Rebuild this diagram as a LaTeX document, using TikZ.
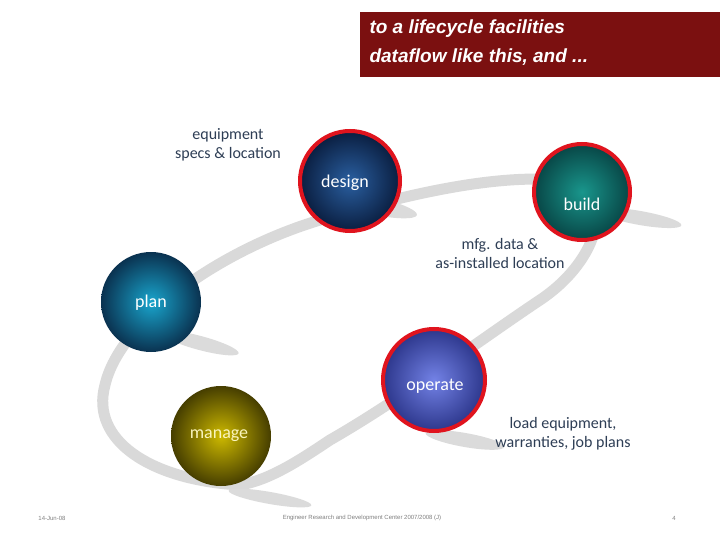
\documentclass[tikz,border=0pt]{standalone}
\usepackage{fontspec}
\setmainfont{Carlito}
\newfontfamily\arialf{Liberation Sans}
\definecolor{titlered}{HTML}{7B1010}
\definecolor{lbl}{HTML}{2E3E55}
\definecolor{ringred}{HTML}{E0141E}
\begin{document}
\begin{tikzpicture}[x=1pt,y=-1pt,
  ball/.style={circle,minimum size=#1,inner sep=0pt},
  redring/.style={draw=ringred,line width=4pt},
  intext/.style={font=\fontsize{18}{20}\selectfont,text=white},
  lab/.style={font=\fontsize{16}{19}\selectfont,text=lbl,align=center},
  loop/.style={draw=gray!30,line width=11pt,line cap=round},
  shad/.style={fill=gray!28}]
\useasboundingbox[fill=white] (0,0) rectangle (720,540);
% title
\node[fill=titlered,minimum width=360,minimum height=65,anchor=north west,inner sep=0] (title) at (360,12) {};
\node[anchor=north west,text=white,align=left,font=\arialf\bfseries\itshape\fontsize{19}{29}\selectfont] (tt) at (366,16) {to a lifecycle facilities\\dataflow like this, and ...};
% loop
\draw[loop] (240,485) .. controls (150,480) and (90,440) .. (105,385)
  .. controls (120,320) and (220,250) .. (320,220)
  .. controls (420,190) and (500,175) .. (560,180);
\draw[loop] (560,180) .. controls (620,190) and (600,260) .. (540,300)
  .. controls (480,340) and (400,400) .. (330,440)
  .. controls (300,460) and (270,480) .. (240,485);
% shadows / tails
\fill[shad,rotate around={-12:(370,205)}] (370,205) ellipse (48 and 9);
\fill[shad,rotate around={-10:(640,218)}] (640,218) ellipse (42 and 7);
\fill[shad,rotate around={-15:(200,343)}] (200,343) ellipse (40 and 7);
\fill[shad,rotate around={-10:(465,440)}] (465,440) ellipse (40 and 7);
\fill[shad,rotate around={-10:(270,498)}] (270,498) ellipse (42 and 6);
% balls
\node[ball=100,shade,inner color={rgb,255:red,42;green,95;blue,160},outer color={rgb,255:red,10;green,30;blue,64},redring] (design) at (350,181) {};
\node[ball=96,shade,inner color={rgb,255:red,25;green,150;blue,140},outer color={rgb,255:red,8;green,70;blue,70},redring] (build) at (582,192) {};
\node[ball=100,shade,inner color={rgb,255:red,25;green,165;blue,205},outer color={rgb,255:red,10;green,50;blue,80}] (plan) at (151,302) {};
\node[ball=102,shade,inner color={rgb,255:red,115;green,130;blue,230},outer color={rgb,255:red,45;green,55;blue,140},redring] (operate) at (434,380) {};
\node[ball=100,shade,inner color={rgb,255:red,205;green,185;blue,0},outer color={rgb,255:red,70;green,62;blue,0}] (manage) at (221,436) {};
\node[intext] (tdesign) at (345,183) {design};
\node[intext] (tbuild) at (582,204) {build};
\node[intext] (tplan) at (151,303) {plan};
\node[intext] (toperate) at (435,386) {operate};
\node[intext,text={rgb,255:red,250;green,245;blue,190}] (tmanage) at (219,436) {manage};
% labels
\node[lab] (l1) at (228,145) {equipment\\specs \& location};
\node[lab] (l2) at (500,254) {mfg. data \&\\as-installed location};
\node[lab] (l3) at (563,434) {load equipment,\\warranties, job plans};
% footer
\node[font=\arialf\fontsize{6}{7}\selectfont,text=gray] (f1) at (52,518) {14-Jun-08};
\node[font=\arialf\fontsize{6}{7}\selectfont,text=gray] (f2) at (362,518) {Engineer Research and Development Center 2007/2008 (J)};
\node[font=\arialf\fontsize{6}{7}\selectfont,text=gray] (f3) at (674,518) {4};
\end{tikzpicture}
\end{document}
